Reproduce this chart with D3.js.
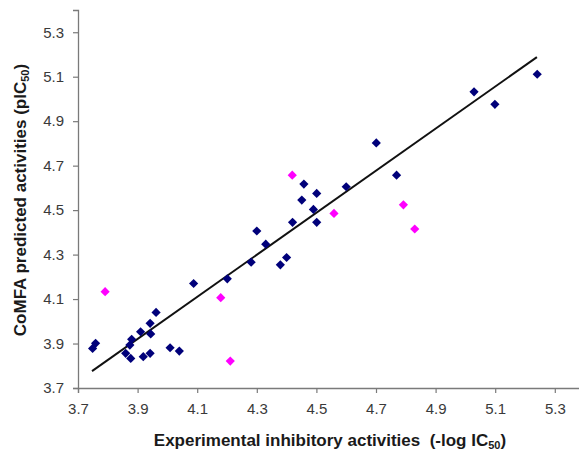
<!DOCTYPE html>
<html>
<head>
<meta charset="utf-8">
<script src="https://cdn.jsdelivr.net/npm/d3@7"></script>
<style>
  html, body { margin: 0; padding: 0; background: #fff; }
  svg { display: block; }
  text { font-family: "Liberation Sans", Arial, sans-serif; }
</style>
</head>
<body>
<svg id="chart" width="579" height="453"></svg>
<script>
// Training set (navy)
const trainX = [3.749, 3.759, 3.860, 3.877, 3.874, 3.880, 3.910, 3.919, 3.942, 3.942, 3.944, 3.962, 4.009, 4.040, 4.088, 4.201, 4.281, 4.300, 4.330, 4.379, 4.400, 4.420, 4.458, 4.451, 4.490, 4.501, 4.501, 4.600, 4.701, 4.769, 5.029, 5.099, 5.241];
const trainY = [3.878, 3.901, 3.856, 3.833, 3.893, 3.919, 3.953, 3.841, 3.856, 3.991, 3.943, 4.040, 3.881, 3.866, 4.170, 4.191, 4.266, 4.406, 4.347, 4.254, 4.287, 4.445, 4.617, 4.545, 4.503, 4.575, 4.445, 4.605, 4.802, 4.657, 5.032, 4.976, 5.111];
// Test set (magenta)
const testX = [3.791, 4.179, 4.211, 4.419, 4.559, 4.792, 4.830];
const testY = [4.133, 4.106, 3.821, 4.657, 4.485, 4.524, 4.415];
// Regression line end points
const lineX = [3.747, 5.240];
const lineY = [3.776, 5.188];
// Ticks
const tickValues = [3.7, 3.9, 4.1, 4.3, 4.5, 4.7, 4.9, 5.1, 5.3];
const axisDomain = [3.7, 5.4];

const svg = d3.select("#chart");
const x = d3.scaleLinear().domain(axisDomain).range([78, 584.6]);
const y = d3.scaleLinear().domain(axisDomain).range([388, 10]);

const axisColor = "#7a7a7a";
const labelColor = "#3a3a3a";

// X axis
const xAxis = svg.append("g").attr("transform", "translate(0,388)")
  .call(d3.axisBottom(x).tickValues(tickValues).tickFormat(d3.format(".1f")).tickSizeOuter(0).tickSize(5).tickPadding(10));
// Y axis
const yAxis = svg.append("g").attr("transform", "translate(78,0)")
  .call(d3.axisLeft(y).tickValues(tickValues).tickFormat(d3.format(".1f")).tickSizeOuter(0).tickSize(5).tickPadding(9));

[xAxis, yAxis].forEach(g => {
  g.select(".domain").attr("stroke", axisColor).attr("stroke-width", 1.3);
  g.selectAll(".tick line").attr("stroke", axisColor).attr("stroke-width", 1.2);
  g.selectAll(".tick text").attr("fill", labelColor).style("font-size", "15px")
    .style("font-family", "'Liberation Sans', Arial, sans-serif");
});

// Regression line
svg.append("line")
  .attr("x1", x(lineX[0])).attr("y1", y(lineY[0]))
  .attr("x2", x(lineX[1])).attr("y2", y(lineY[1]))
  .attr("stroke", "#111").attr("stroke-width", 2);

// Diamond marker
const r = 4.6;
const diamond = `M0,${-r}L${r},0L0,${r}L${-r},0Z`;

const train = trainX.map((v, i) => [v, trainY[i]]);
const test = testX.map((v, i) => [v, testY[i]]);

svg.append("g").selectAll("path").data(train).join("path")
  .attr("d", diamond)
  .attr("transform", d => `translate(${x(d[0])},${y(d[1])})`)
  .attr("fill", "#00007a");

svg.append("g").selectAll("path").data(test).join("path")
  .attr("d", diamond)
  .attr("transform", d => `translate(${x(d[0])},${y(d[1])})`)
  .attr("fill", "#ff00ff");

// X title
const xt = svg.append("text")
  .attr("x", 330).attr("y", 446)
  .attr("text-anchor", "middle")
  .attr("fill", "#1a1a1a")
  .style("font-size", "17px").style("font-weight", "bold");
xt.append("tspan").text("Experimental inhibitory activities\u00A0\u00A0(-log IC");
xt.append("tspan").text("50").style("font-size", "11px").attr("dy", 3);
xt.append("tspan").text(")").attr("dy", -3);

// Y title
const yt = svg.append("text")
  .attr("transform", "translate(26,200) rotate(-90)")
  .attr("text-anchor", "middle")
  .attr("fill", "#1a1a1a")
  .style("font-size", "17px").style("font-weight", "bold");
yt.append("tspan").text("CoMFA predicted activities (pIC");
yt.append("tspan").text("50").style("font-size", "11px").attr("dy", 3);
yt.append("tspan").text(")").attr("dy", -3);
</script>
</body>
</html>
